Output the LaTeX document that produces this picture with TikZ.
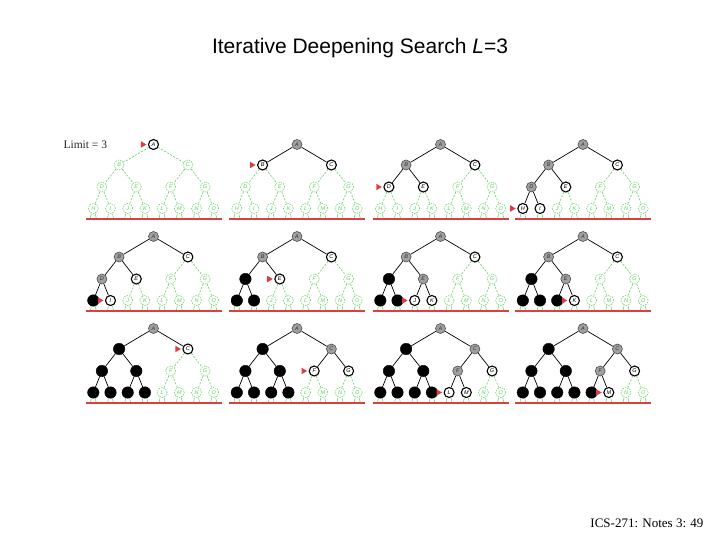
\documentclass[tikz,border=0pt]{standalone}
\usepackage{fontspec}
\setmainfont{Liberation Serif}
\newfontfamily\arialf{Liberation Sans}
\usetikzlibrary{shapes.geometric}
\definecolor{idsgreen}{RGB}{95,205,95}
\definecolor{idsred}{RGB}{222,62,62}
\definecolor{idsgrey}{RGB}{160,160,160}
\tikzset{
  nodebase/.style={circle, minimum size=10, inner sep=0, font=\arialf\fontsize{5.5}{6}\selectfont\itshape},
  st0/.style={nodebase, draw=idsgreen, dash pattern=on 1.5pt off 1pt, text=idsgreen, line width=0.5},
  st1/.style={nodebase, draw=black, line width=1.1, fill=white},
  st2/.style={nodebase, draw=black!70, line width=0.6, fill=idsgrey, text=black!80},
  st3/.style={nodebase, draw=black, fill=black, minimum size=11.5},
  e0/.style={draw=idsgreen, dash pattern=on 2pt off 1.5pt, line width=0.6},
  e1/.style={draw=black, line width=0.7},
  e2/.style={e1}, e3/.style={e1},
  stub/.style={draw=idsgreen, line width=0.5},
  redline/.style={draw=idsred, line width=2},
  idsmark/.style={isosceles triangle, isosceles triangle stretches, fill=idsred, inner sep=0, minimum height=5.5, minimum width=6.5, anchor=apex}
}
\newcommand\IDStree[5]{%
 \begin{scope}[shift={(#2,#3)}]
  \foreach \px/\py/\L [count=\i] in {0/0/A,-34.4/20.5/B,34.4/20.5/C,-51.6/42.5/D,-17.2/42.5/E,17.2/42.5/F,51.6/42.5/G,-60.2/64/H,-43/64/I,-25.8/64/J,-8.6/64/K,8.6/64/L,25.8/64/M,43/64/N,60.2/64/O}{%
    \pgfmathtruncatemacro\st{{#4}[\i-1]}%
    \edef\tmp{\noexpand\node[st\st] (#1-\i) at (\px,\py) {\L};}\tmp
  }
  \foreach \i in {2,...,15}{%
    \pgfmathtruncatemacro\p{floor(\i/2)}%
    \pgfmathtruncatemacro\st{{#4}[\i-1]}%
    \edef\tmp{\noexpand\draw[e\st] (#1-\p) -- (#1-\i);}\tmp
  }
  \foreach \i in {8,...,15}{%
    \draw[stub] ([xshift=-2]#1-\i.south) -- ++(-1.2,5.5);
    \draw[stub] ([xshift=2]#1-\i.south) -- ++(1.2,5.5);
  }
  \coordinate (#1-l) at (-68,74.5);
  \coordinate (#1-r) at (68,74.5);
  \draw[redline] (#1-l) -- (#1-r);
  \node[idsmark] (#1-m) at ([xshift=-1]#1-#5.west) {};
 \end{scope}}
\begin{document}
\begin{tikzpicture}[x=1pt,y=-1pt]
\useasboundingbox (0,0) rectangle (720,540);
\node[font=\arialf\fontsize{21}{25}\selectfont] (title) at (360,48) {Iterative Deepening Search \textit{L}=3};
\node[anchor=west, font=\fontsize{11.5}{12}\selectfont, text=black!85] (limit) at (60,144.5) {Limit = 3};
\node[anchor=east, font=\fontsize{13}{15}\selectfont] (foot) at (707,523) {ICS-271: Notes 3: 49};
\IDStree{p1}{153.5}{144.5}{1,0,0,0,0,0,0,0,0,0,0,0,0,0,0}{1}
\IDStree{p2}{297}{144.5}{2,1,1,0,0,0,0,0,0,0,0,0,0,0,0}{2}
\IDStree{p3}{440.5}{144.5}{2,2,1,1,1,0,0,0,0,0,0,0,0,0,0}{4}
\IDStree{p4}{583}{144.5}{2,2,1,2,1,0,0,1,1,0,0,0,0,0,0}{8}
\IDStree{p5}{153.5}{236.5}{2,2,1,2,1,0,0,3,1,0,0,0,0,0,0}{9}
\IDStree{p6}{297}{236.5}{2,2,1,3,1,0,0,3,3,0,0,0,0,0,0}{5}
\IDStree{p7}{440.5}{236.5}{2,2,1,3,2,0,0,3,3,1,1,0,0,0,0}{10}
\IDStree{p8}{583}{236.5}{2,2,1,3,2,0,0,3,3,3,1,0,0,0,0}{11}
\IDStree{p9}{153.5}{328.5}{2,3,1,3,3,0,0,3,3,3,3,0,0,0,0}{3}
\IDStree{p10}{297}{328.5}{2,3,2,3,3,1,1,3,3,3,3,0,0,0,0}{6}
\IDStree{p11}{440.5}{328.5}{2,3,2,3,3,2,1,3,3,3,3,1,1,0,0}{12}
\IDStree{p12}{583}{328.5}{2,3,2,3,3,2,1,3,3,3,3,3,1,0,0}{13}
\end{tikzpicture}
\end{document}
